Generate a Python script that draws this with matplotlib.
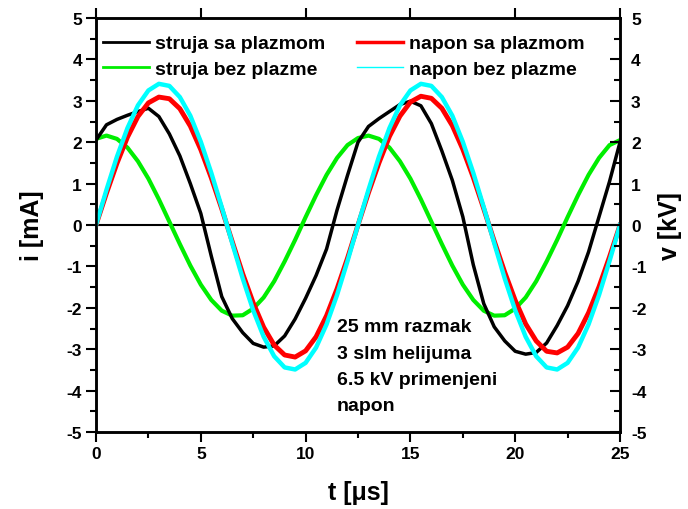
import matplotlib
matplotlib.use('Agg')
from matplotlib import pyplot as plt
from matplotlib.lines import Line2D
from matplotlib.ticker import MultipleLocator

plt.rcParams['font.family'] = ['Liberation Sans', 'DejaVu Sans']
plt.rcParams['font.weight'] = 'bold'
plt.rcParams['axes.unicode_minus'] = False

# time axis [us], samples every 0.5 us
t = [0.5 * k for k in range(51)]

struja_sa = [2.05, 2.42, 2.55, 2.65, 2.74, 2.82, 2.62, 2.20, 1.67, 1.00,
             0.28, -0.75, -1.73, -2.26, -2.60, -2.86, -2.95, -2.92, -2.68, -2.27,
             -1.77, -1.22, -0.58, 0.36, 1.20, 2.00, 2.38, 2.57, 2.74, 2.91,
             2.99, 2.88, 2.45, 1.79, 1.08, 0.20, -0.96, -1.90, -2.46, -2.80,
             -3.05, -3.12, -3.08, -2.85, -2.43, -1.95, -1.36, -0.65, 0.20, 1.05,
             2.00]

napon_sa = [0.0, 0.77, 1.49, 2.12, 2.62, 2.95, 3.09, 3.05, 2.81, 2.39,
            1.82, 1.14, 0.39, -0.40, -1.18, -1.88, -2.47, -2.90, -3.14, -3.19,
            -3.04, -2.70, -2.19, -1.54, -0.80, 0.0, 0.78, 1.50, 2.14, 2.63,
            2.97, 3.11, 3.06, 2.82, 2.40, 1.83, 1.15, 0.39, -0.39, -1.14,
            -1.82, -2.39, -2.80, -3.05, -3.09, -2.95, -2.62, -2.12, -1.49, -0.77,
            0.0]

struja_bez = [2.08, 2.16, 2.08, 1.87, 1.54, 1.12, 0.62, 0.08, -0.46, -0.98,
              -1.44, -1.81, -2.07, -2.19, -2.18, -2.02, -1.75, -1.36, -0.88, -0.36,
              0.19, 0.72, 1.21, 1.62, 1.93, 2.10, 2.16, 2.08, 1.87, 1.54,
              1.12, 0.62, 0.08, -0.46, -0.98, -1.44, -1.81, -2.07, -2.19, -2.18,
              -2.02, -1.75, -1.36, -0.88, -0.36, 0.19, 0.72, 1.21, 1.62, 1.93,
              2.05]

napon_bez = [0.0, 0.85, 1.65, 2.34, 2.89, 3.25, 3.41, 3.36, 3.09, 2.64,
             2.01, 1.26, 0.43, -0.44, -1.29, -2.06, -2.70, -3.17, -3.44, -3.49,
             -3.33, -2.96, -2.40, -1.69, -0.87, 0.0, 0.85, 1.65, 2.34, 2.89,
             3.25, 3.41, 3.36, 3.09, 2.64, 2.01, 1.26, 0.43, -0.44, -1.29,
             -2.06, -2.70, -3.17, -3.44, -3.49, -3.33, -2.96, -2.40, -1.69, -0.87,
             0.0]

labels = ['struja sa plazmom', 'struja bez plazme', 'napon sa plazmom', 'napon bez plazme']
note = '25 mm razmak\n3 slm helijuma\n6.5 kV primenjeni\nnapon'

fig = plt.figure(figsize=(6.88, 5.10), dpi=100)
ax = fig.add_axes([96 / 688, 77 / 510, 524 / 688, 414 / 510])

ax.axhline(0, color='black', lw=1.5, zorder=1)
ax.plot(t, struja_bez, color='#00ee00', lw=3, zorder=2)
ax.plot(t, struja_sa, color='black', lw=2.5, zorder=3)
ax.plot(t, napon_sa, color='#ff0000', lw=3.5, zorder=4)
ax.plot(t, napon_bez, color='#00ffff', lw=3.2, zorder=5)

ax.set_xlim(0, 25)
ax.set_ylim(-5, 5)
ax.xaxis.set_major_locator(MultipleLocator(5))
ax.xaxis.set_minor_locator(MultipleLocator(2.5))
ax.yaxis.set_major_locator(MultipleLocator(1))
ax.yaxis.set_minor_locator(MultipleLocator(0.5))
ax.tick_params(axis='both', which='major', direction='out', length=7, width=1.5,
               labelsize=12.5, pad=3)
ax.tick_params(axis='both', which='minor', direction='out', length=4, width=1.5)
ax.tick_params(axis='x', top=True, labeltop=False)
ax.tick_params(axis='y', right=False)
for s in ax.spines.values():
    s.set_linewidth(1.8)
for lab in ax.get_xticklabels() + ax.get_yticklabels():
    lab.set_fontweight('bold')

ax.set_xlabel('t [\u03bcs]', fontsize=18, fontweight='bold', labelpad=14)
ax.set_ylabel('i [mA]', fontsize=18, fontweight='bold', labelpad=16)

ax2 = ax.twinx()
ax2.set_ylim(-5, 5)
ax2.yaxis.set_major_locator(MultipleLocator(1))
ax2.yaxis.set_minor_locator(MultipleLocator(0.5))
ax2.tick_params(axis='y', which='major', direction='in', length=7, width=1.5,
                labelsize=12.5, pad=8)
ax2.tick_params(axis='y', which='minor', direction='in', length=4, width=1.5)
ax2.set_ylabel('v [kV]', fontsize=18, fontweight='bold', labelpad=8)
for s in ax2.spines.values():
    s.set_linewidth(1.8)
for lab in ax2.get_yticklabels():
    lab.set_fontweight('bold')

handles = [Line2D([], [], color='black', lw=2),
           Line2D([], [], color='#00ee00', lw=2),
           Line2D([], [], color='#ff0000', lw=2.5),
           Line2D([], [], color='#00ffff', lw=1)]
ax2.legend(handles, labels, ncol=2, loc='upper left', frameon=False,
           prop={'size': 14, 'weight': 'bold'}, handlelength=2.4, handletextpad=0.3,
           columnspacing=1.6, labelspacing=0.4, borderaxespad=0.0, borderpad=0.35,
           bbox_to_anchor=(0.0, 0.976))

ax.text(11.5, -2.25, note, fontsize=14, fontweight='bold', va='top', ha='left',
        linespacing=1.72, zorder=6)

fig.savefig('out.png', dpi=100)
